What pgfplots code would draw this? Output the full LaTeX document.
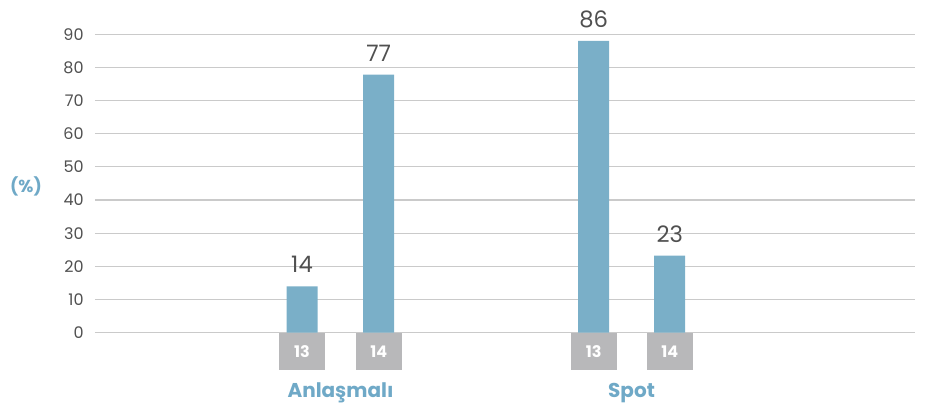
\documentclass[border=0pt]{standalone}
\usepackage{pgfplots}
\pgfplotsset{compat=1.18}
\usepackage{fontspec}
\setmainfont{Poppins}
\definecolor{barblue}{HTML}{7AAFC8}
\definecolor{labblue}{HTML}{6FA9C7}
\definecolor{boxgray}{HTML}{B8B8BA}
\definecolor{gridgray}{HTML}{CACACA}
\definecolor{txtgray}{HTML}{505050}
\begin{document}
\begin{tikzpicture}
\useasboundingbox (-71.25pt,-52.7pt) rectangle (626.25pt,249.5pt);
\begin{axis}[
  at={(0,0)}, anchor=south west,
  scale only axis, width=615pt, height=223.8pt,
  xmin=95, xmax=915, ymin=0, ymax=90,
  axis line style={draw=none},
  ymajorgrids, grid style={gridgray, line width=0.9pt},
  ytick={0,10,...,90},
  major tick length=0pt,
  yticklabel style={font=\fontsize{12}{14}\selectfont, text=txtgray, xshift=-5pt},
  /pgf/number format/assume math mode=true,
  xtick={302,378.7,593.7,669.7},
  xticklabels={13,14,13,14},
  xticklabel style={anchor=north, fill=boxgray, text=white, font=\bfseries\fontsize{12}{14}\selectfont,
    minimum width=34.3pt, minimum height=28pt, inner sep=0pt, outer sep=0pt, yshift=0pt},
  clip=false,
  ybar, bar width=31,
  nodes near coords,
  point meta=explicit,
  nodes near coords style={font=\fontsize{17}{20}\selectfont, text=txtgray, anchor=south, yshift=6.5pt},
]
\addplot[fill=barblue, draw=none] coordinates {
  (302,14) [14]
  (378.7,77.8) [77]
  (593.7,88.0) [86]
  (669.7,23.2) [23]
};
\node[anchor=base, font=\bfseries\fontsize{15}{18}\selectfont, text=labblue] at (axis cs:340.5,0) [yshift=-48.5pt] {Anlaşmalı};
\node[anchor=base, font=\bfseries\fontsize{15}{18}\selectfont, text=labblue] at (axis cs:631.5,0) [yshift=-48.5pt] {Spot};
\node[font=\bfseries\fontsize{13}{15}\selectfont, text=labblue] at (axis cs:26,44.2) {(\%)};
\end{axis}
\end{tikzpicture}
\end{document}
